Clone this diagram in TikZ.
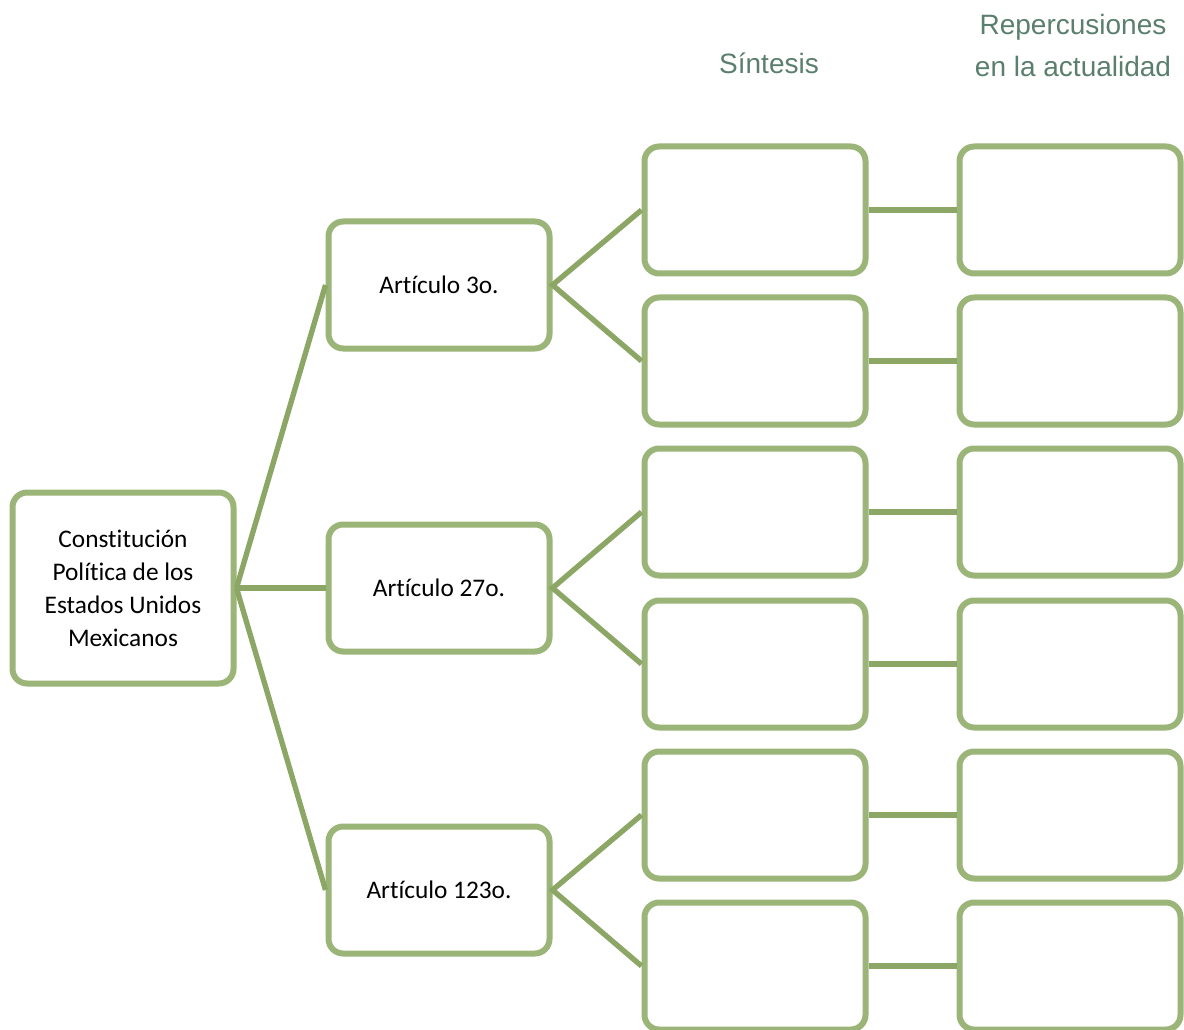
\documentclass[tikz,border=0pt]{standalone}
\usepackage{fontspec}
\setmainfont{Carlito}[Ligatures=NoCommon]
\newfontfamily\headfont{Liberation Sans}
\usetikzlibrary{positioning}
\definecolor{boxgreen}{HTML}{9BB579}
\definecolor{linegreen}{HTML}{8CA765}
\definecolor{headgreen}{HTML}{5B7F6E}
\tikzset{
    green-box/.style = {draw=boxgreen, fill=white, line width=4.5pt, rectangle, rounded corners=11pt, minimum width=165.75pt, minimum height=95.25pt, align=center, font=\fontsize{19}{24.75}\selectfont},
    link/.style = {draw=linegreen, line width=4pt},
    col-title/.style = {text=headgreen, font=\headfont\fontsize{21}{31.5}\selectfont, align=center},
}

\begin{document}
\begin{tikzpicture}[x=0.75pt, y=-0.75pt]
\clip (0,0) rectangle (1184,1030);
\fill[white] (0,0) rectangle (1184,1030);
% column titles
\node[col-title] (sintesis) at (769,63) {Síntesis};
\node[col-title] (repercusiones) at (1073,45) {Repercusiones\\en la actualidad};
% main box and articles
\node[green-box, minimum height=143.25pt] (root) at (123,588) {Constitución\\Política de los\\Estados Unidos\\Mexicanos};
\node[green-box] (art1) at (439,285) {Artículo 3o.};
\node[green-box] (art2) at (439,588) {Artículo 27o.};
\node[green-box] (art3) at (439,890) {Artículo 123o.};
\foreach \a in {1,2,3}
    \draw[link] (root.east) -- (art\a.west);
% empty boxes
\foreach \i/\y in {1/210,2/361,3/512,4/664,5/815,6/966}{
    \node[green-box] (syn\i) at (755,\y) {};
    \node[green-box] (rep\i) at (1070,\y) {};
    \draw[link] (syn\i.east) -- (rep\i.west);
}
\draw[link] (syn1.west) -- (art1.east) -- (syn2.west);
\draw[link] (syn3.west) -- (art2.east) -- (syn4.west);
\draw[link] (syn5.west) -- (art3.east) -- (syn6.west);
\end{tikzpicture}
\end{document}
